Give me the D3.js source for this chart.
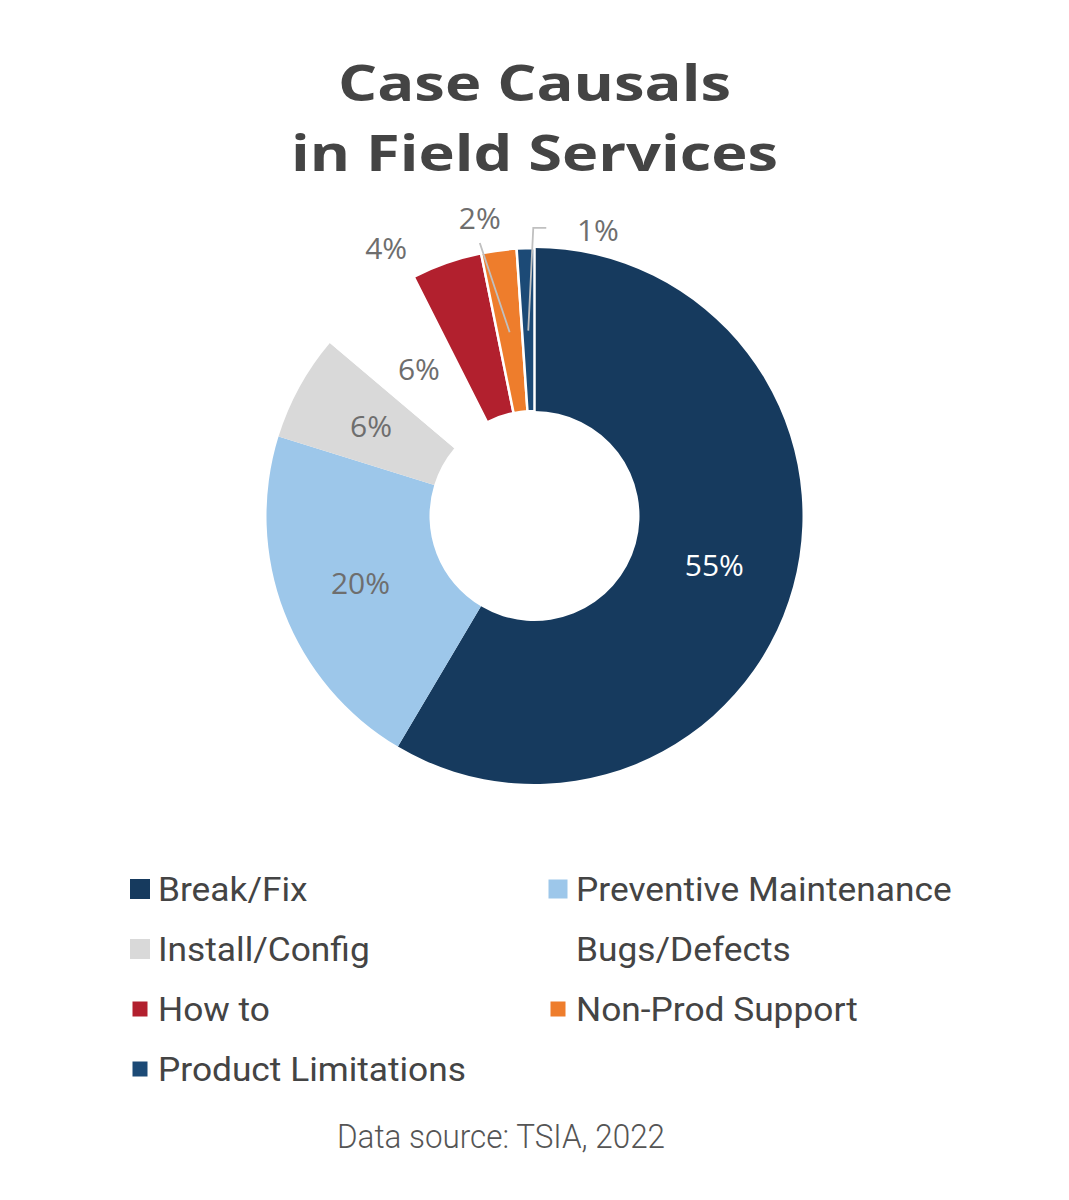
<!DOCTYPE html>
<html><head><meta charset="utf-8">
<script src="https://cdn.jsdelivr.net/npm/d3@7"></script>
<style>html,body{margin:0;padding:0;background:#fff;}</style>
</head><body>
<svg id="chart" width="1069" height="1200"></svg>
<script>
const categories = ["Break/Fix","Preventive Maintenance","Install/Config","Bugs/Defects","How to","Non-Prod Support","Product Limitations"];
const values = [55,20,6,6,4,2,1];
const labels = ["55%","20%","6%","6%","4%","2%","1%"];
const colors = ["#163a5e","#9dc7ea","#d9d9d9","#ffffff","#b2202e","#ee7d2c","#1c4a76"];
const titleLines = ["Case Causals","in Field Services"];
const sourceText = "Data source: TSIA, 2022";

const svg = d3.select("#chart");
const cx = 534.5, cy = 516, R = 268, r0 = 105;

// title
const titleWidths = [393, 487];
titleLines.forEach((t,i)=>{
  svg.append("text").attr("text-anchor","middle")
    .attr("x",cx).attr("y",101 + i*70)
    .attr("font-family","'Open Sans',sans-serif").attr("font-weight",700)
    .attr("font-size",51).attr("fill","#444")
    .attr("textLength",titleWidths[i]).attr("lengthAdjust","spacingAndGlyphs")
    .text(t);
});

const g = svg.append("g").attr("transform",`translate(${cx},${cy})`);
const pie = d3.pie().sort(null).value(d=>d);
const arcs = pie(values);
const arc = d3.arc().innerRadius(r0).outerRadius(R);
const bordered = new Set([4,5,6]);

g.selectAll("path.slice").data(arcs).join("path")
  .attr("class","slice")
  .attr("d",arc)
  .attr("fill",(d,i)=>colors[i])
  .attr("stroke",(d,i)=>bordered.has(i)?"#fff":"none")
  .attr("stroke-width",2.5)
  .attr("stroke-linejoin","miter");

const labelArc = d3.arc().innerRadius((R+r0)/2).outerRadius((R+r0)/2);

// label placement: inside for big slices, outside (polar r, angle) for small ones
const outside = {4:{r:306,a:-29}, 5:{r:303,a:-10.4}, 6:{r:293,a:12.5}};
const lblFont = "'Open Sans',sans-serif";

arcs.forEach((d,i)=>{
  const c = labelArc.centroid(d);
  let pos = c;
  if (outside[i]) {
    const o = outside[i];
    const a = o.a*Math.PI/180;
    pos = [o.r*Math.sin(a), -o.r*Math.cos(a)];
  }
  if (i===5) {
    g.append("path").attr("d",d3.line()([[c[0],c[1]+1],[pos[0],pos[1]+25]]))
      .attr("stroke","#c0c0c0").attr("stroke-width",1.8).attr("fill","none");
  }
  if (i===6) {
    g.append("path").attr("d",d3.line()([[c[0],c[1]+1],[c[0]+5,pos[1]-2],[c[0]+18,pos[1]-2]]))
      .attr("stroke","#c0c0c0").attr("stroke-width",1.8).attr("fill","none");
  }
  g.append("text").attr("x",pos[0]).attr("y",pos[1]).attr("dy","0.36em")
    .attr("text-anchor","middle")
    .attr("font-family",lblFont).attr("font-size",30)
    .attr("fill", i===0 ? "#ffffff" : "#6e6e6e")
    .text(labels[i]);
});

// legend
const legend = svg.append("g");
const legX = [130, 548], legY0 = 889, legDy = 60;
const sqSize = [20,19,20,0,15,15,15];
categories.forEach((name,i)=>{
  const col = i%2, row = Math.floor(i/2);
  const x = legX[col], y = legY0 + row*legDy;
  const s = sqSize[i];
  if (i!==3) {
    legend.append("rect").attr("x",x+(20-s)/2).attr("y",y - s/2)
      .attr("width",s).attr("height",s).attr("fill",colors[i]);
  }
  const tx = x+28;
  legend.append("text").attr("x",0).attr("y",0).attr("dy","0.36em")
    .attr("transform",`translate(${tx},${y}) scale(1.07,1)`)
    .attr("font-family","Roboto,sans-serif").attr("font-size",33)
    .attr("fill","#444").text(name);
});

// source
svg.append("text").attr("x",501).attr("y",1148).attr("text-anchor","middle")
  .attr("font-family","Roboto,sans-serif").attr("font-weight",300)
  .attr("font-size",34).attr("fill","#555")
  .attr("textLength",328).attr("lengthAdjust","spacingAndGlyphs")
  .text(sourceText);
</script>
</body></html>
